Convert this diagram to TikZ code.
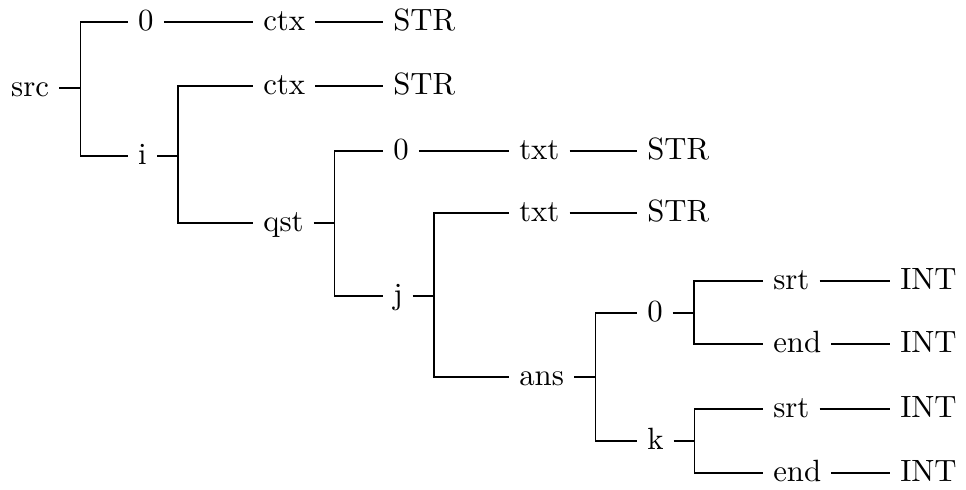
\documentclass[tikz,border=0pt]{standalone}
\begin{document}
\begin{tikzpicture}[x=0.325pt,y=-0.325pt,
  tn/.style={anchor=west,inner sep=3.33pt,outer sep=0pt,text height=1.5ex,text depth=.25ex},
  link/.style={line width=0.4pt,black}]
\useasboundingbox (0,0) rectangle (966,490);
% columns
\def\cA{1}\def\cB{128}\def\cC{253}\def\cD{383}\def\cE{509}\def\cF{637}\def\cG{763}\def\cH{890}
\node[tn] (src) at (\cA,88) {src};
\node[tn] (n0) at (\cB,22) {0};
\node[tn] (ctxA) at (\cC,22) {ctx};
\node[tn] (strA) at (\cD,22) {STR};
\node[tn] (i) at (\cB,156) {i};
\node[tn] (ctxB) at (\cC,86) {ctx};
\node[tn] (strB) at (\cD,86) {STR};
\node[tn] (qst) at (\cC,223) {qst};
\node[tn] (q0) at (\cD,151) {0};
\node[tn] (txtA) at (\cE,151) {txt};
\node[tn] (strC) at (\cF,151) {STR};
\node[tn] (j) at (\cD,296) {j};
\node[tn] (txtB) at (\cE,213) {txt};
\node[tn] (strD) at (\cF,213) {STR};
\node[tn] (ans) at (\cE,377) {ans};
\node[tn] (a0) at (\cF,313) {0};
\node[tn] (srtA) at (\cG,281) {srt};
\node[tn] (intA) at (\cH,281) {INT};
\node[tn] (endA) at (\cG,344) {end};
\node[tn] (intB) at (\cH,344) {INT};
\node[tn] (k) at (\cF,441) {k};
\node[tn] (srtB) at (\cG,409) {srt};
\node[tn] (intC) at (\cH,409) {INT};
\node[tn] (endB) at (\cG,473) {end};
\node[tn] (intD) at (\cH,473) {INT};
% forks
\foreach \p/\a/\b in {src/n0/i, i/ctxB/qst, qst/q0/j, j/txtB/ans, ans/a0/k, a0/srtA/endA, k/srtB/endB}{
  \draw[link] (\p.east) -- ++(21,0) |- (\a.west);
  \draw[link] (\p.east) -- ++(21,0) |- (\b.west);
}
% straight links
\foreach \a/\b in {n0/ctxA, ctxA/strA, ctxB/strB, q0/txtA, txtA/strC, txtB/strD, srtA/intA, endA/intB, srtB/intC, endB/intD}{
  \draw[link] (\a.east) -- (\b.west);
}
\end{tikzpicture}
\end{document}
